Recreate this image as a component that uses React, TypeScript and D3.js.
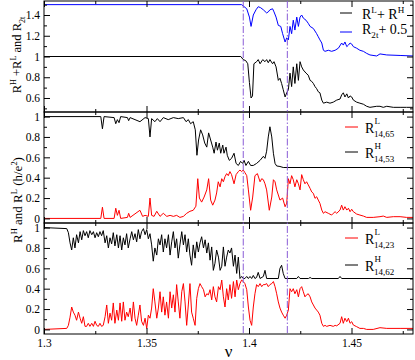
import React, { useRef, useEffect } from 'react';
import * as d3 from 'd3';

type Pt = [number, number];

// top panel: R^L + R^H (black) and R_2t + 0.5 (blue)
const sumLH: Pt[] = [
  [1.3, 1.0], [1.396, 1.0], [1.3972, 0.97], [1.3984, 0.96], [1.3994, 0.93], [1.4002, 0.75], [1.401, 0.6],
  [1.4017, 0.62], [1.4024, 0.93], [1.4037, 0.95], [1.4045, 0.97], [1.4054, 0.93], [1.4067, 0.97], [1.4078, 0.95],
  [1.4086, 0.97], [1.4094, 0.94], [1.4102, 0.97], [1.4115, 0.93], [1.4122, 0.95], [1.4132, 0.9], [1.4143, 0.77],
  [1.4151, 0.79], [1.4159, 0.74], [1.4167, 0.68], [1.4176, 0.61], [1.4184, 0.65], [1.4192, 0.68], [1.42, 0.84],
  [1.4208, 0.71], [1.4216, 0.9], [1.4224, 0.74], [1.4233, 0.93], [1.4241, 0.77], [1.4249, 0.95], [1.4257, 0.9],
  [1.4265, 0.87], [1.4278, 0.84], [1.4289, 0.82], [1.4298, 0.77], [1.4306, 0.76], [1.4314, 0.74], [1.4322, 0.71],
  [1.433, 0.69], [1.4338, 0.66], [1.4346, 0.65], [1.4355, 0.58], [1.4363, 0.55], [1.4379, 0.56], [1.4395, 0.55],
  [1.4411, 0.56], [1.4428, 0.58], [1.4444, 0.59], [1.4452, 0.63], [1.446, 0.65], [1.4468, 0.61], [1.4477, 0.64],
  [1.4485, 0.6], [1.4493, 0.62], [1.4501, 0.61], [1.4509, 0.58], [1.4525, 0.56], [1.4541, 0.55], [1.4558, 0.54],
  [1.4574, 0.52], [1.459, 0.51], [1.4623, 0.52], [1.4639, 0.52], [1.4655, 0.51], [1.4672, 0.52], [1.4704, 0.51],
  [1.4737, 0.51], [1.4769, 0.51], [1.48, 0.51],
];
const r2tShifted: Pt[] = [
  [1.3, 1.5], [1.3964, 1.5], [1.3989, 1.46], [1.4002, 1.38], [1.401, 1.29], [1.4021, 1.4], [1.4034, 1.45],
  [1.4045, 1.48], [1.4057, 1.47], [1.407, 1.45], [1.4086, 1.42], [1.4094, 1.43], [1.4102, 1.45], [1.4115, 1.46],
  [1.4122, 1.43], [1.4132, 1.38], [1.4143, 1.3], [1.4155, 1.29], [1.4164, 1.22], [1.4176, 1.14], [1.4184, 1.18],
  [1.4192, 1.16], [1.42, 1.29], [1.4208, 1.22], [1.4216, 1.35], [1.4224, 1.255], [1.4233, 1.38], [1.4241, 1.29],
  [1.4249, 1.38], [1.4257, 1.4], [1.4265, 1.37], [1.4278, 1.35], [1.4289, 1.32], [1.4298, 1.29], [1.4314, 1.27],
  [1.433, 1.22], [1.4338, 1.19], [1.4346, 1.16], [1.4355, 1.13], [1.4363, 1.06], [1.4371, 1.05], [1.4387, 1.06],
  [1.4403, 1.05], [1.442, 1.06], [1.4436, 1.08], [1.4452, 1.13], [1.446, 1.11], [1.4468, 1.14], [1.4477, 1.095],
  [1.4485, 1.11], [1.4493, 1.13], [1.4501, 1.12], [1.4509, 1.095], [1.4525, 1.08], [1.4541, 1.06], [1.4558, 1.05],
  [1.4574, 1.03], [1.459, 1.015], [1.4623, 1.005], [1.4639, 1.025], [1.4672, 1.015], [1.4737, 1.01], [1.48, 1.005],
];

// middle panel: R^L_{14,65} (red), R^H_{14,53} (black)
const rL1465: Pt[] = [
  [1.3, 0.0], [1.3277, 0.0], [1.3285, 0.11], [1.3293, 0.0], [1.3342, 0.0], [1.335, 0.1], [1.3358, 0.03],
  [1.3366, 0.08], [1.3374, 0.0], [1.3407, 0.01], [1.3413, 0.05], [1.342, 0.01], [1.3468, 0.08], [1.3481, 0.02],
  [1.3493, 0.03], [1.3509, 0.02], [1.3517, 0.2], [1.3525, 0.03], [1.3537, 0.02], [1.355, 0.07], [1.3566, 0.02],
  [1.3582, 0.05], [1.3599, 0.02], [1.3615, 0.03], [1.3631, 0.02], [1.3647, 0.03], [1.3663, 0.01], [1.368, 0.02],
  [1.3696, 0.05], [1.3712, 0.07], [1.3728, 0.08], [1.3741, 0.12], [1.375, 0.39], [1.3758, 0.2], [1.3769, 0.16],
  [1.3781, 0.21], [1.3794, 0.28], [1.3803, 0.39], [1.3813, 0.18], [1.3823, 0.13], [1.3834, 0.18], [1.3842, 0.25],
  [1.385, 0.36], [1.3859, 0.31], [1.3867, 0.39], [1.3875, 0.36], [1.3883, 0.41], [1.3891, 0.44], [1.3899, 0.42],
  [1.3907, 0.46], [1.3915, 0.43], [1.3927, 0.34], [1.3937, 0.43], [1.3948, 0.46], [1.3956, 0.475], [1.3964, 0.46],
  [1.3972, 0.475], [1.398, 0.45], [1.3989, 0.42], [1.3997, 0.28], [1.4008, 0.08], [1.4018, 0.21], [1.4029, 0.42],
  [1.4041, 0.44], [1.4054, 0.36], [1.4062, 0.39], [1.407, 0.38], [1.4078, 0.34], [1.4086, 0.28], [1.4099, 0.08],
  [1.4111, 0.21], [1.4119, 0.38], [1.4127, 0.36], [1.4135, 0.28], [1.4143, 0.23], [1.4151, 0.18], [1.4164, 0.2],
  [1.4176, 0.115], [1.4184, 0.15], [1.4192, 0.39], [1.42, 0.34], [1.4208, 0.42], [1.4216, 0.38], [1.4224, 0.31],
  [1.4233, 0.38], [1.4241, 0.34], [1.4249, 0.28], [1.4257, 0.43], [1.4265, 0.38], [1.4273, 0.34], [1.4281, 0.36],
  [1.4289, 0.33], [1.4298, 0.295], [1.4306, 0.26], [1.4314, 0.246], [1.4322, 0.197], [1.433, 0.213], [1.4338, 0.18],
  [1.4346, 0.148], [1.4355, 0.082], [1.4363, 0.05], [1.4371, 0.066], [1.4387, 0.05], [1.4403, 0.033], [1.4411, 0.05],
  [1.442, 0.066], [1.4428, 0.05], [1.4444, 0.082], [1.4452, 0.13], [1.446, 0.082], [1.4468, 0.115], [1.4477, 0.082],
  [1.4485, 0.1], [1.4493, 0.066], [1.4501, 0.09], [1.4509, 0.066], [1.4525, 0.043], [1.4541, 0.033], [1.4558, 0.023],
  [1.4574, 0.01], [1.4606, 0.01], [1.4639, 0.017], [1.4655, 0.023], [1.4672, 0.01], [1.4704, 0.017], [1.4737, 0.017],
  [1.4769, 0.01], [1.48, 0.01],
];
const rH1453: Pt[] = [
  [1.3, 1.0], [1.3277, 1.0], [1.3285, 0.88], [1.3293, 1.0], [1.3342, 0.99], [1.335, 0.93], [1.3358, 0.97],
  [1.3366, 0.94], [1.3374, 1.0], [1.3407, 0.99], [1.3413, 0.96], [1.342, 0.99], [1.3468, 0.95], [1.3493, 0.99],
  [1.3509, 0.98], [1.3517, 0.8], [1.3525, 0.98], [1.3541, 0.95], [1.3553, 0.98], [1.3566, 0.95], [1.3582, 0.99],
  [1.3606, 0.97], [1.3631, 0.99], [1.3655, 0.98], [1.368, 0.99], [1.3693, 0.95], [1.3704, 0.97], [1.3715, 0.93],
  [1.3728, 0.95], [1.3738, 0.87], [1.3746, 0.62], [1.3754, 0.77], [1.3764, 0.87], [1.3774, 0.82], [1.3784, 0.74],
  [1.3794, 0.7], [1.3803, 0.84], [1.3813, 0.77], [1.3823, 0.7], [1.383, 0.64], [1.3839, 0.75], [1.3846, 0.67],
  [1.3855, 0.74], [1.3862, 0.64], [1.3872, 0.72], [1.3878, 0.64], [1.3888, 0.7], [1.3894, 0.62], [1.3904, 0.57],
  [1.3915, 0.59], [1.3927, 0.64], [1.3937, 0.54], [1.3948, 0.52], [1.3959, 0.56], [1.3969, 0.54], [1.3976, 0.57],
  [1.3985, 0.52], [1.3997, 0.56], [1.4008, 0.52], [1.4021, 0.52], [1.4037, 0.54], [1.4054, 0.57], [1.407, 0.61],
  [1.4078, 0.59], [1.4086, 0.66], [1.4094, 0.8], [1.4102, 0.9], [1.4111, 0.8], [1.4119, 0.64], [1.4127, 0.54],
  [1.4135, 0.515], [1.4151, 0.51], [1.4167, 0.5], [1.48, 0.5],
];

// bottom panel: R^L_{14,23} (red), R^H_{14,62} (black)
const rL1423: Pt[] = [
  [1.3, 0.0], [1.3111, 0.01], [1.3119, 0.04], [1.3127, 0.12], [1.3135, 0.22], [1.3143, 0.17], [1.3151, 0.14],
  [1.3159, 0.09], [1.3168, 0.17], [1.3176, 0.11], [1.3184, 0.06], [1.3192, 0.125], [1.32, 0.03], [1.3208, 0.03],
  [1.3216, 0.06], [1.3224, 0.03], [1.3233, 0.06], [1.3241, 0.03], [1.3249, 0.08], [1.3257, 0.04], [1.3265, 0.03],
  [1.3273, 0.06], [1.3281, 0.03], [1.3289, 0.04], [1.3298, 0.125], [1.3306, 0.24], [1.3314, 0.06], [1.3322, 0.16],
  [1.333, 0.09], [1.3338, 0.26], [1.3346, 0.06], [1.3355, 0.19], [1.3363, 0.09], [1.3371, 0.26], [1.3379, 0.08],
  [1.3387, 0.27], [1.3395, 0.09], [1.3403, 0.17], [1.3411, 0.125], [1.342, 0.21], [1.3428, 0.08], [1.3436, 0.27],
  [1.3444, 0.11], [1.3452, 0.04], [1.346, 0.14], [1.3468, 0.24], [1.3476, 0.08], [1.3485, 0.04], [1.3493, 0.11],
  [1.3501, 0.01], [1.3509, 0.14], [1.3517, 0.11], [1.3525, 0.21], [1.3533, 0.4], [1.3541, 0.27], [1.355, 0.11],
  [1.3558, 0.21], [1.3566, 0.37], [1.3574, 0.17], [1.3582, 0.32], [1.359, 0.14], [1.3598, 0.27], [1.3607, 0.11],
  [1.3615, 0.37], [1.3623, 0.21], [1.3631, 0.34], [1.3639, 0.17], [1.3647, 0.44], [1.3655, 0.27], [1.3663, 0.11],
  [1.3672, 0.37], [1.368, 0.45], [1.3688, 0.27], [1.3696, 0.04], [1.3704, 0.24], [1.3712, 0.45], [1.372, 0.17],
  [1.3728, 0.11], [1.3737, 0.04], [1.3745, 0.305], [1.3753, 0.4], [1.3761, 0.45], [1.3769, 0.42], [1.3778, 0.39],
  [1.3786, 0.32], [1.3794, 0.35], [1.3802, 0.34], [1.381, 0.39], [1.3818, 0.29], [1.3826, 0.42], [1.3834, 0.32],
  [1.3842, 0.27], [1.3851, 0.42], [1.3859, 0.39], [1.3867, 0.485], [1.3875, 0.32], [1.3883, 0.22], [1.3891, 0.4],
  [1.3899, 0.29], [1.3907, 0.44], [1.3915, 0.305], [1.3924, 0.47], [1.3932, 0.32], [1.394, 0.485], [1.3948, 0.39],
  [1.3956, 0.45], [1.3964, 0.485], [1.3972, 0.47], [1.398, 0.45], [1.3989, 0.39], [1.3997, 0.22], [1.4005, 0.09],
  [1.4013, 0.04], [1.4021, 0.22], [1.4029, 0.35], [1.4037, 0.44], [1.4045, 0.42], [1.4054, 0.45], [1.4062, 0.42],
  [1.407, 0.44], [1.4078, 0.44], [1.4086, 0.45], [1.4094, 0.42], [1.4102, 0.44], [1.4111, 0.45], [1.4119, 0.47],
  [1.4127, 0.42], [1.4135, 0.35], [1.4143, 0.27], [1.4151, 0.21], [1.4159, 0.17], [1.4167, 0.14], [1.4176, 0.11],
  [1.4184, 0.14], [1.4192, 0.19], [1.42, 0.4], [1.4208, 0.37], [1.4216, 0.4], [1.4224, 0.35], [1.4233, 0.39],
  [1.4241, 0.32], [1.4249, 0.4], [1.4257, 0.42], [1.4265, 0.37], [1.4273, 0.32], [1.4281, 0.34], [1.4289, 0.35],
  [1.4298, 0.32], [1.4306, 0.27], [1.4314, 0.24], [1.4322, 0.21], [1.433, 0.19], [1.4338, 0.17], [1.4346, 0.14],
  [1.4355, 0.06], [1.4363, 0.03], [1.4371, 0.04], [1.4379, 0.03], [1.4395, 0.04], [1.4411, 0.03], [1.442, 0.04],
  [1.4428, 0.035], [1.4444, 0.06], [1.4452, 0.125], [1.446, 0.06], [1.4468, 0.11], [1.4477, 0.076], [1.4485, 0.11],
  [1.4493, 0.06], [1.4501, 0.076], [1.4509, 0.043], [1.4525, 0.027], [1.4541, 0.01], [1.4558, 0.01], [1.4574, 0.0],
  [1.4606, 0.0], [1.4639, 0.017], [1.4672, 0.01], [1.4737, 0.01], [1.48, 0.01],
];
const rH1462: Pt[] = [
  [1.3, 1.0], [1.3111, 0.99], [1.3119, 0.95], [1.3127, 0.85], [1.3135, 0.78], [1.3143, 0.9], [1.3151, 0.8],
  [1.3159, 0.93], [1.3168, 0.85], [1.3176, 0.96], [1.3184, 0.88], [1.3192, 0.97], [1.32, 0.92], [1.3208, 0.96],
  [1.3216, 0.9], [1.3224, 0.97], [1.3233, 0.93], [1.3241, 0.96], [1.3249, 0.9], [1.3257, 0.95], [1.3265, 0.91],
  [1.3273, 0.96], [1.3281, 0.92], [1.3289, 0.97], [1.3298, 0.85], [1.3306, 0.92], [1.3314, 0.8], [1.3322, 0.9],
  [1.333, 0.84], [1.3338, 0.95], [1.3346, 0.82], [1.3355, 0.93], [1.3363, 0.8], [1.3371, 0.92], [1.3379, 0.78],
  [1.3387, 0.9], [1.3395, 0.83], [1.3403, 0.94], [1.3411, 0.8], [1.342, 0.89], [1.3428, 0.96], [1.3436, 0.88],
  [1.3444, 0.94], [1.3452, 0.86], [1.346, 0.98], [1.3468, 0.89], [1.3476, 0.96], [1.3485, 0.99], [1.3493, 0.93],
  [1.3501, 0.98], [1.3509, 0.89], [1.3517, 0.94], [1.3525, 0.83], [1.3533, 0.67], [1.3541, 0.8], [1.355, 0.73],
  [1.3558, 0.89], [1.3566, 0.83], [1.3574, 0.93], [1.3582, 0.76], [1.359, 0.89], [1.3598, 0.8], [1.3607, 0.93],
  [1.3615, 0.73], [1.3623, 0.86], [1.3631, 0.96], [1.3639, 0.8], [1.3647, 0.89], [1.3655, 0.7], [1.3663, 0.83],
  [1.3672, 0.96], [1.368, 0.83], [1.3688, 0.93], [1.3696, 0.76], [1.3704, 0.89], [1.3712, 0.73], [1.372, 0.63],
  [1.3728, 0.83], [1.3737, 0.7], [1.3745, 0.86], [1.3753, 0.76], [1.3761, 0.85], [1.3769, 0.91], [1.3778, 0.8],
  [1.3786, 0.88], [1.3794, 0.75], [1.3802, 0.85], [1.381, 0.68], [1.3818, 0.81], [1.3826, 0.58], [1.3834, 0.65],
  [1.3842, 0.78], [1.3851, 0.71], [1.3859, 0.58], [1.3867, 0.62], [1.3875, 0.81], [1.3883, 0.62], [1.3891, 0.71],
  [1.3899, 0.78], [1.3907, 0.75], [1.3915, 0.8], [1.3924, 0.62], [1.3932, 0.73], [1.394, 0.55], [1.3948, 0.71],
  [1.3956, 0.5], [1.3964, 0.52], [1.3972, 0.5], [1.398, 0.5], [1.3989, 0.52], [1.3997, 0.5], [1.4005, 0.52],
  [1.4013, 0.5], [1.4021, 0.53], [1.4029, 0.5], [1.4037, 0.51], [1.4045, 0.56], [1.4054, 0.5], [1.407, 0.52],
  [1.4078, 0.58], [1.4086, 0.5], [1.4143, 0.5], [1.4151, 0.6], [1.4159, 0.63], [1.4167, 0.55], [1.4176, 0.5],
  [1.4233, 0.5], [1.4241, 0.52], [1.4249, 0.5], [1.429, 0.5], [1.4298, 0.51], [1.4306, 0.5], [1.4436, 0.5],
  [1.4444, 0.52], [1.4452, 0.5], [1.48, 0.5],
];

const markerNu = [1.3972, 1.4187];
const xMajor = [1.3, 1.35, 1.4, 1.45];
const xMinor = [1.325, 1.375, 1.425, 1.475];
const yTopMajor = [0.6, 0.8, 1, 1.2, 1.4];
const yTopMinor = [0.5, 0.7, 0.9, 1.1, 1.3, 1.5];
const yMajor = [0, 0.2, 0.4, 0.6, 0.8, 1];
const yMinor = [0.1, 0.3, 0.5, 0.7, 0.9];

type Part = [string, 'n' | 'sup' | 'sub'];

const FONT = '"Liberation Serif", "Times New Roman", serif';

function richText(sel: any, parts: Part[], size: number) {
  let shift = 0;
  parts.forEach(([txt, kind]) => {
    const target = kind === 'sup' ? -0.42 * size : kind === 'sub' ? 0.3 * size : 0;
    sel.append('tspan')
      .attr('dy', target - shift)
      .attr('font-size', kind === 'n' ? size : size * 0.65)
      .text(txt);
    shift = target;
  });
}

const App = () => {
  const svgRef = useRef<SVGSVGElement>(null);

  useEffect(() => {
    const width = 415;
    const height = 360;
    const left = 44;
    const right = 413;

    const svg = d3.select(svgRef.current);
    svg.selectAll('*').remove();
    svg.attr('width', width).attr('height', height).attr('viewBox', [0, 0, width, height] as any);

    const x = d3.scaleLinear().domain([1.3, 1.48]).range([left, right]);
    const fmt = (d: any) => String(+(+d).toFixed(2));

    const panels = [
      { top: 1, bottom: 112, domain: [0.465, 1.535], major: yTopMajor, minor: yTopMinor,
        series: [{ data: sumLH, color: '#000' }, { data: r2tShifted, color: '#0000ff' }] },
      { top: 112, bottom: 223, domain: [-0.045, 1.045], major: yMajor, minor: yMinor,
        series: [{ data: rH1453, color: '#000' }, { data: rL1465, color: '#ff0000' }] },
      { top: 223, bottom: 334, domain: [-0.045, 1.045], major: yMajor, minor: yMinor,
        series: [{ data: rH1462, color: '#000' }, { data: rL1423, color: '#ff0000' }] },
    ];

    const line = d3.line();

    panels.forEach((p, i) => {
      const y = d3.scaleLinear().domain(p.domain).range([p.bottom, p.top]);
      const g = svg.append('g');

      // data
      p.series.forEach(s => {
        g.append('path')
          .attr('fill', 'none')
          .attr('stroke', s.color)
          .attr('stroke-width', 1)
          .attr('stroke-linejoin', 'round')
          .attr('d', line(s.data.map(([a, b]) => [x(a), y(b)])));
      });

      const styleAxis = (ax: any) => {
        ax.select('.domain').remove();
        ax.attr('font-family', FONT).attr('font-size', 11.5);
        ax.selectAll('line').attr('stroke', '#000');
        ax.selectAll('text').attr('fill', '#000');
      };

      // left
      g.append('g').attr('transform', `translate(${left},0)`)
        .call(d3.axisLeft(y).tickValues(p.major).tickSize(-6).tickPadding(4).tickFormat(fmt as any))
        .call(styleAxis);
      g.append('g').attr('transform', `translate(${left},0)`)
        .call(d3.axisLeft(y).tickValues(p.minor).tickSize(-3).tickFormat(() => ''))
        .call(styleAxis);
      // right
      g.append('g').attr('transform', `translate(${right},0)`)
        .call(d3.axisRight(y).tickValues(p.major).tickSize(-6).tickFormat(() => ''))
        .call(styleAxis);
      g.append('g').attr('transform', `translate(${right},0)`)
        .call(d3.axisRight(y).tickValues(p.minor).tickSize(-3).tickFormat(() => ''))
        .call(styleAxis);
      // top
      g.append('g').attr('transform', `translate(0,${p.top})`)
        .call(d3.axisTop(x).tickValues(xMajor).tickSize(-6).tickFormat(() => ''))
        .call(styleAxis);
      g.append('g').attr('transform', `translate(0,${p.top})`)
        .call(d3.axisTop(x).tickValues(xMinor).tickSize(-3).tickFormat(() => ''))
        .call(styleAxis);
      // bottom
      g.append('g').attr('transform', `translate(0,${p.bottom})`)
        .call(d3.axisBottom(x).tickValues(xMajor).tickSize(-6).tickPadding(5)
          .tickFormat(i === 2 ? (fmt as any) : () => ''))
        .call(styleAxis);
      g.append('g').attr('transform', `translate(0,${p.bottom})`)
        .call(d3.axisBottom(x).tickValues(xMinor).tickSize(-3).tickFormat(() => ''))
        .call(styleAxis);

      // frame
      g.append('rect')
        .attr('x', left).attr('y', p.top)
        .attr('width', right - left).attr('height', p.bottom - p.top)
        .attr('fill', 'none').attr('stroke', '#000').attr('stroke-width', 1);
    });

    // dash-dot markers
    svg.append('g')
      .selectAll('line')
      .data(markerNu)
      .join('line')
      .attr('x1', d => x(d)).attr('x2', d => x(d))
      .attr('y1', 1).attr('y2', 334)
      .attr('stroke', '#8a5cd6')
      .attr('stroke-width', 1)
      .attr('stroke-dasharray', '7,2,1.5,2');

    const txt = svg.append('g').attr('font-family', FONT).attr('fill', '#000').style('white-space', 'pre');

    // x label
    txt.append('text').attr('x', (left + right) / 2).attr('y', 357)
      .attr('text-anchor', 'middle').attr('font-size', 17).text('ν');

    // y titles
    const t1 = txt.append('text').attr('transform', 'translate(21,55) rotate(-90)').attr('text-anchor', 'middle');
    richText(t1, [['R', 'n'], ['H', 'sup'], [' +R', 'n'], ['L', 'sup'], [' and R', 'n'], ['2t', 'sub']], 12.5);
    const t2 = txt.append('text').attr('transform', 'translate(22,200) rotate(-90)').attr('text-anchor', 'middle');
    richText(t2, [['R', 'n'], ['H', 'sup'], [' and R', 'n'], ['L', 'sup'], [' (h/e', 'n'], ['2', 'sup'], [')', 'n']], 13);

    // top legend
    const topLegend = [
      { color: '#000', ly: 13, base: 18.5, parts: [['R', 'n'], ['L', 'sup'], ['+ R', 'n'], ['H', 'sup']] as Part[] },
      { color: '#0000ff', ly: 32, base: 33.5, parts: [['R', 'n'], ['2t', 'sub'], ['+ 0.5', 'n']] as Part[] },
    ];
    topLegend.forEach(l => {
      txt.append('line').attr('x1', 340).attr('x2', 352).attr('y1', l.ly).attr('y2', l.ly)
        .attr('stroke', l.color).attr('stroke-width', 1);
      const t = txt.append('text').attr('x', 362).attr('y', l.base);
      richText(t, l.parts, 14);
    });

    // stacked legends
    const stacked = [
      { color: '#ff0000', ly: 127, base: 133, sup: 'L', sub: '14,65' },
      { color: '#000', ly: 152, base: 158, sup: 'H', sub: '14,53' },
      { color: '#ff0000', ly: 238, base: 244, sup: 'L', sub: '14,23' },
      { color: '#000', ly: 265, base: 271, sup: 'H', sub: '14,62' },
    ];
    stacked.forEach(l => {
      txt.append('line').attr('x1', 345).attr('x2', 358).attr('y1', l.ly).attr('y2', l.ly)
        .attr('stroke', l.color).attr('stroke-width', 1);
      txt.append('text').attr('x', 365).attr('y', l.base).attr('font-size', 14).text('R');
      txt.append('text').attr('x', 374.5).attr('y', l.base - 9).attr('font-size', 9).text(l.sup);
      txt.append('text').attr('x', 374).attr('y', l.base + 4).attr('font-size', 9).text(l.sub);
    });
  }, []);

  return (
    <div style={{ position: 'absolute', left: 0, top: 0 }}>
      <svg ref={svgRef}></svg>
    </div>
  );
};

export default App;
